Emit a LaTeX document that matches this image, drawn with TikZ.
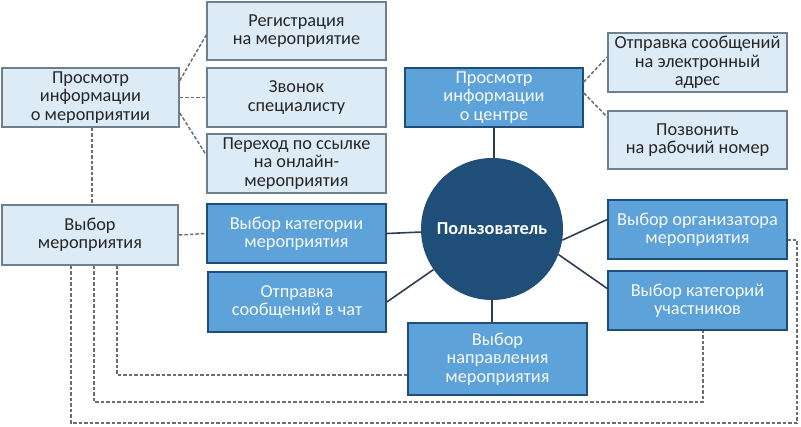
\documentclass[tikz,border=0pt]{standalone}
\usepackage{fontspec}
\setmainfont{Carlito}
\definecolor{lightfill}{HTML}{DDEBF7}
\definecolor{lightdraw}{HTML}{6F7F8C}
\definecolor{midfill}{HTML}{5DA2D8}
\definecolor{darkblue}{HTML}{1F4E79}
\definecolor{linecol}{HTML}{2B3E52}
\definecolor{dashcol}{HTML}{6A6F75}
\definecolor{textdark}{HTML}{262626}
\tikzset{
  lbox/.style={draw=lightdraw, fill=lightfill, line width=1.6pt, text=textdark,
    align=center, font=\fontsize{18.3}{18.4}\selectfont, inner sep=0pt},
  mbox/.style={draw=darkblue, fill=midfill, line width=1.6pt, text=white!95!midfill,
    align=center, font=\fontsize{18.3}{18.4}\selectfont, inner sep=0pt},
  conn/.style={draw=linecol, line width=1.6pt},
  dconn/.style={draw=dashcol, line width=1.5pt, dash pattern=on 3.5pt off 2pt},
}
\begin{document}
\begin{tikzpicture}[x=1pt,y=-1pt]
\useasboundingbox (0,0) rectangle (801,426);
% light boxes
\node[lbox, minimum width=179pt, minimum height=58pt] (reg) at (296.5,31) {Регистрация\\на мероприятие};
\node[lbox, minimum width=179pt, minimum height=59pt] (zvon) at (296.5,97.5) {Звонок\\специалисту};
\node[lbox, minimum width=179pt, minimum height=59pt] (per) at (296.5,163.5) {Переход по ссылке\\на онлайн-\\мероприятия};
\node[lbox, minimum width=177pt, minimum height=59pt] (pim) at (90.5,97.5) {Просмотр\\информации\\о мероприятии};
\node[lbox, minimum width=179pt, minimum height=59pt] (email) at (697.5,62.5) {Отправка сообщений\\на электронный\\адрес};
\node[lbox, minimum width=179pt, minimum height=58pt] (tel) at (697.5,140) {Позвонить\\на рабочий номер};
\node[lbox, minimum width=176pt, minimum height=60pt] (vyb) at (90,235) {Выбор\\мероприятия};
% medium boxes
\node[mbox, minimum width=178pt, minimum height=59pt] (pic) at (494,97.5) {Просмотр\\информации\\о центре};
\node[mbox, minimum width=179pt, minimum height=59pt] (vkm) at (296.5,233.5) {Выбор категории\\мероприятия};
\node[mbox, minimum width=178pt, minimum height=60pt] (chat) at (297,302) {Отправка\\сообщений в чат};
\node[mbox, minimum width=179pt, minimum height=59pt] (org) at (697.5,229.5) {Выбор организатора\\мероприятия};
\node[mbox, minimum width=179pt, minimum height=59pt] (uch) at (697.5,300.5) {Выбор категорий\\участников};
\node[mbox, minimum width=179pt, minimum height=72pt] (napr) at (497.5,359) {Выбор\\направления\\мероприятия};
% circle
\node[circle, fill=darkblue, minimum size=142pt, inner sep=0pt, text=white,
  font=\fontsize{18.3}{18.4}\selectfont\bfseries] (user) at (492,229) {Пользователь};
% solid connectors
\draw[conn] (pic.south) -- (pic.south |- user.north);
\draw[conn] (vkm.east) -- (user);
\draw[conn] (chat.east) -- (user);
\draw[conn] (user.south) -- (user.south |- napr.north);
\draw[conn] (user.-9) -- ([yshift=10pt]org.west);
\draw[conn] (user.-21) -- ([yshift=12pt]uch.west);
% dashed connectors
\draw[dconn] ([yshift=17pt]pim.east) -- ([yshift=-4pt]reg.west);
\draw[dconn] (pim.east) -- (zvon.west);
\draw[dconn] ([yshift=-15.5pt]pim.east) -- ([yshift=8.5pt]per.west);
\draw[dconn] ([yshift=15.5pt]pic.east) -- ([yshift=5.5pt]email.west);
\draw[dconn] ([yshift=4.5pt]pic.east) -- ([yshift=23pt]tel.west);
\draw[dconn] ([xshift=1.5pt]pim.south) -- ([xshift=1.5pt]pim.south |- vyb.north);
\draw[dconn] (vyb.east) -- (vkm.west);
\coordinate (c1) at (117,375);
\coordinate (c2) at (94,402);
\coordinate (c3) at (71,423);
\coordinate (c4) at (797,423);
\draw[dconn] (vyb.south -| c1) -- (c1) -- ([yshift=-16pt]napr.west);
\draw[dconn] (vyb.south -| c2) -- (c2) -| ([xshift=5.5pt]uch.south);
\draw[dconn] (vyb.south -| c3) -- (c3) -- (c4) |- ([yshift=-10.5pt]org.east);
\end{tikzpicture}
\end{document}
